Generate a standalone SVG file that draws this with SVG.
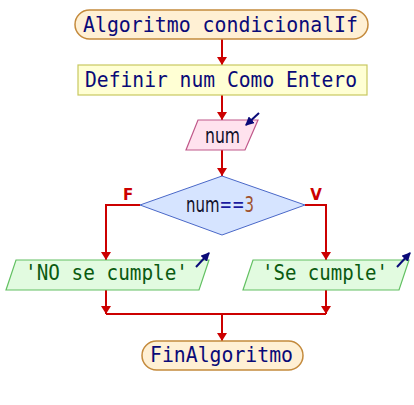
<svg xmlns="http://www.w3.org/2000/svg" width="414" height="405" viewBox="0 0 414 405">
  <style>
    .term { fill: #fff0d4; stroke: #c48a3c; stroke-width: 1.5; }
    .proc { fill: #ffffd4; stroke: #c8c860; stroke-width: 1.2; }
    .inp { fill: #ffe2ee; stroke: #c0588a; stroke-width: 1.2; }
    .dec { fill: #d6e4ff; stroke: #4a68c8; stroke-width: 1; }
    .out { fill: #e2fbe0; stroke: #62c062; stroke-width: 1.2; }
    .mono { font-family: "DejaVu Sans Mono", "Liberation Mono", monospace; font-size: 22px; }
    .sans { font-family: "DejaVu Sans", "Liberation Sans", sans-serif; font-size: 22px; }
    .navy { fill: #0a0a78; }
    .green { fill: #0a5a10; }
    .flow { fill: none; stroke: #cc0000; stroke-width: 2; }
    .lbl { font-family: "DejaVu Sans", "Liberation Sans", sans-serif; font-size: 15px; font-weight: bold; fill: #cc0000; }
    .io { stroke: #0a0a78; stroke-width: 2; fill: none; }
  </style>
  <defs>
    <marker id="ah" viewBox="0 0 8 10" refX="8" refY="5" markerWidth="8" markerHeight="10" markerUnits="userSpaceOnUse" orient="auto">
      <path d="M0,0 L8,5 L0,10 z" fill="#cc0000"/>
    </marker>
    <marker id="ioh" viewBox="0 0 8 8" refX="7" refY="4" markerWidth="9" markerHeight="9" markerUnits="userSpaceOnUse" orient="auto">
      <path d="M0,0 L8,4 L0,8 z" fill="#0a0a78"/>
    </marker>
  </defs>

  <g id="connectors">
    <path class="flow" d="M222,39 V65" marker-end="url(#ah)"/>
    <path class="flow" d="M222,95 V120" marker-end="url(#ah)"/>
    <path class="flow" d="M222,150 V176" marker-end="url(#ah)"/>
    <path class="flow" d="M140,205 H106 V260" marker-end="url(#ah)"/>
    <path class="flow" d="M305,205 H326 V260" marker-end="url(#ah)"/>
    <path class="flow" d="M106,290 V314" marker-end="url(#ah)"/>
    <path class="flow" d="M326,290 V314" marker-end="url(#ah)"/>
    <path class="flow" d="M106,314 H326"/>
    <path class="flow" d="M222,314 V341" marker-end="url(#ah)"/>
    <text class="lbl" x="128" y="200" text-anchor="middle">F</text>
    <text class="lbl" x="316" y="200" text-anchor="middle">V</text>
  </g>

  <g id="start">
    <rect class="term" x="75" y="10" width="293" height="29" rx="14.5"/>
    <text class="mono navy" x="83" y="32" textLength="275" lengthAdjust="spacingAndGlyphs">Algoritmo condicionalIf</text>
  </g>

  <g id="define">
    <rect class="proc" x="78" y="65" width="289" height="30"/>
    <text class="mono navy" x="85" y="87" textLength="272" lengthAdjust="spacingAndGlyphs">Definir num Como Entero</text>
  </g>

  <g id="read-num">
    <polygon class="inp" points="198,120 258,120 245,150 186,150"/>
    <text class="sans" x="205" y="143" fill="#10102a" textLength="35" lengthAdjust="spacingAndGlyphs">num</text>
    <path class="io" d="M259,113 L246,125" marker-end="url(#ioh)"/>
  </g>

  <g id="decision">
    <polygon class="dec" points="222,176 305,205 222,235 140,205"/>
    <text class="sans" transform="translate(186,212) scale(0.68,1)" fill="#10102a">num<tspan fill="#1a1aa0">==</tspan><tspan fill="#a0522d">3</tspan></text>
  </g>

  <g id="write-no">
    <polygon class="out" points="16,260 209,260 199,290 6,290"/>
    <text class="mono green" x="25" y="280" textLength="163" lengthAdjust="spacingAndGlyphs">'NO se cumple'</text>
    <path class="io" d="M196,267 L209,253" marker-end="url(#ioh)"/>
  </g>

  <g id="write-yes">
    <polygon class="out" points="253,260 409,260 399,290 243,290"/>
    <text class="mono green" x="262" y="280" textLength="126" lengthAdjust="spacingAndGlyphs">'Se cumple'</text>
    <path class="io" d="M397,267 L410,253" marker-end="url(#ioh)"/>
  </g>

  <g id="end">
    <rect class="term" x="142" y="341" width="161" height="29" rx="14.5"/>
    <text class="mono navy" x="150" y="362" textLength="143" lengthAdjust="spacingAndGlyphs">FinAlgoritmo</text>
  </g>
</svg>
